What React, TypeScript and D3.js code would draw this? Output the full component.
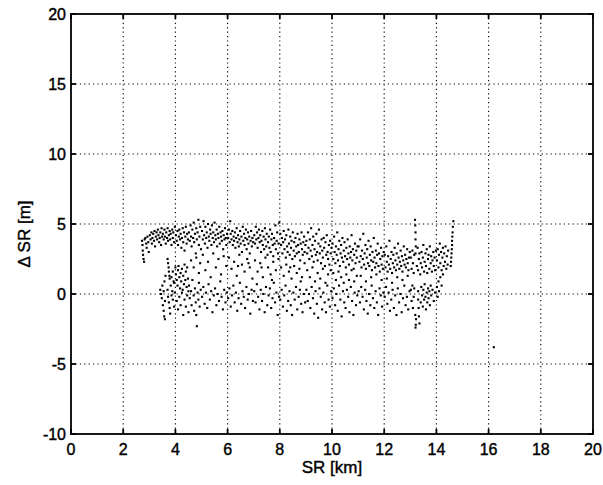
import React from "react";
import * as d3 from "d3";

// x ticks / y ticks as printed on the axes
const xTicks = [0, 2, 4, 6, 8, 10, 12, 14, 16, 18, 20];
const yTicks = [-10, -5, 0, 5, 10, 15, 20];

// [SR km, delta SR m], grouped by km
const pts0 = [
  [2.72,3.8],[2.74,3.5],[2.75,3.1],[2.76,2.8],[2.78,2.5],[2.8,2.3],[2.82,3.9],[2.85,4.0],[2.88,3.6],[2.9,3.3],[2.93,4.1],[2.96,3.7],[2.98,3.0],
  [3.02,4.2],[3.05,3.9],[3.08,4.4],[3.1,3.6],[3.12,4.0],[3.15,4.3],[3.18,3.8],[3.2,4.5],[3.22,3.4],[3.25,4.1],[3.28,4.4],[3.3,3.9],[3.33,4.6],[3.35,4.2],[3.38,3.7],[3.4,4.0],[3.42,4.4],[3.45,3.5],[3.47,4.7],[3.49,4.1],
  [3.42,0.3],[3.45,0.0],[3.48,-0.3],[3.5,0.6],[3.52,-0.8],[3.55,-1.2],[3.57,-1.6],[3.58,0.9],[3.6,-1.8],[3.62,1.3],[3.6,-0.5],[3.55,0.2],
  [3.52,4.3],[3.55,3.9],[3.58,4.6],[3.6,4.1],[3.63,3.6],[3.65,4.4],[3.68,4.0],[3.7,4.7],[3.72,3.8],[3.75,4.2],[3.78,4.5],[3.8,3.9],[3.82,4.3],[3.85,3.5],[3.88,4.6],[3.9,4.0],[3.92,4.4],[3.95,3.7],[3.98,4.8],
  [3.7,2.5],[3.72,2.2],[3.74,1.9],[3.75,1.6],[3.77,1.3],[3.78,1.1],
  [3.7,0.3],[3.72,-0.2],[3.75,-0.6],[3.78,-1.0],[3.8,-1.4],[3.82,0.6],[3.85,-0.1],[3.88,0.2],[3.9,-0.4],[3.93,0.9],[3.95,-0.9],[3.98,0.1],
  [3.85,1.2],[3.9,1.6],[3.95,0.8],[4.0,1.9],[4.02,1.4],[4.05,1.0],[4.08,0.6],[4.1,1.7],[4.12,2.0],[4.15,1.2],[4.18,0.4],[4.2,1.5],[4.22,0.9],[4.25,1.8],[4.28,0.3],[4.3,1.3],[4.33,0.7],[4.35,2.1],[4.38,1.0],[4.4,1.6],[4.43,0.5],[4.45,1.9],[4.48,1.1],[4.5,0.2],
  [4.02,4.2],[4.05,3.8],[4.08,4.5],[4.1,3.5],[4.13,4.1],[4.15,4.6],[4.18,3.9],[4.2,4.3],[4.23,3.3],[4.25,4.0],[4.28,4.7],[4.3,3.7],[4.33,4.4],[4.35,3.1],[4.38,4.1],[4.4,4.8],[4.43,3.6],[4.45,4.3],[4.48,3.9],
  [4.05,-0.5],[4.1,-1.1],[4.15,-0.2],[4.2,-0.8],[4.25,0.1],[4.3,-1.5],[4.35,-0.4],[4.4,-0.9],[4.45,-0.1],[4.5,-1.3],
  [4.52,4.4],[4.55,3.8],[4.58,4.9],[4.6,4.1],[4.62,3.4],[4.65,4.6],[4.68,4.0],[4.7,5.1],[4.72,3.7],[4.75,4.3],[4.78,2.9],[4.8,4.7],[4.82,3.9],[4.85,4.4],[4.88,5.3],[4.9,3.5],[4.92,4.1],[4.95,4.8],[4.98,3.2],
  [4.6,2.4],[4.7,1.9],[4.8,2.6],[4.9,1.5],[4.95,2.2],
  [4.52,0.6],[4.55,-0.3],[4.6,0.2],[4.62,-0.8],[4.65,1.0],[4.7,-0.1],[4.72,-1.2],[4.75,0.4],[4.78,-0.6],[4.8,-1.5],[4.82,-2.3],[4.85,0.1],[4.88,-0.4],[4.9,0.8],[4.93,-0.9],[4.97,0.3],
];

const pts5 = [
  [5.02,4.5],[5.05,3.9],[5.08,5.2],[5.1,4.2],[5.13,3.6],[5.15,4.8],[5.18,4.0],[5.2,4.4],[5.23,3.3],[5.25,5.0],[5.28,4.1],[5.3,3.8],[5.33,4.6],[5.35,4.3],[5.38,3.5],[5.4,4.9],[5.43,4.0],[5.45,4.4],[5.48,3.7],[5.5,5.1],[5.53,4.2],[5.55,3.9],[5.58,4.6],[5.6,3.4],[5.63,4.3],[5.65,4.0],[5.68,4.8],[5.7,3.6],[5.73,4.4],[5.75,4.1],[5.78,3.8],[5.8,4.5],[5.83,3.2],[5.85,4.2],[5.88,3.9],[5.9,4.7],[5.93,4.0],[5.95,3.5],[5.98,4.3],
  [5.05,2.8],[5.15,1.7],[5.25,2.3],[5.35,1.2],[5.45,2.9],[5.55,1.9],[5.65,2.5],[5.75,1.4],[5.85,2.7],[5.95,2.0],
  [5.02,-0.2],[5.07,0.5],[5.12,-0.7],[5.17,0.1],[5.22,-1.0],[5.27,0.7],[5.32,-0.4],[5.37,0.2],[5.42,-1.3],[5.47,-0.1],[5.52,0.4],[5.57,-0.8],[5.62,0.0],[5.67,-0.5],[5.72,0.9],[5.77,-0.2],[5.82,-1.1],[5.87,0.3],[5.92,-0.6],[5.97,0.1],
  [6.02,4.0],[6.05,4.6],[6.08,3.7],[6.1,5.2],[6.12,4.3],[6.15,3.9],[6.18,4.5],[6.2,3.5],[6.23,4.1],[6.25,3.8],[6.28,4.4],[6.3,3.3],[6.33,4.0],[6.35,4.7],[6.38,3.7],[6.4,4.2],[6.43,3.4],[6.45,3.9],[6.48,4.5],[6.5,3.6],[6.53,4.1],[6.55,3.0],[6.58,4.8],[6.6,3.8],[6.63,4.3],[6.65,3.5],[6.68,4.0],[6.7,4.6],[6.73,3.2],[6.75,3.9],[6.78,4.4],[6.8,3.6],[6.83,4.1],[6.85,2.9],[6.88,3.8],[6.9,4.5],[6.93,3.4],[6.95,4.0],[6.98,3.7],
  [6.05,2.6],[6.15,1.8],[6.25,2.3],[6.35,1.3],[6.45,2.8],[6.55,2.1],[6.65,1.6],[6.75,2.5],[6.85,1.9],[6.95,1.1],[6.4,2.0],[6.8,2.2],
  [6.02,-0.3],[6.07,0.4],[6.12,-0.9],[6.17,-0.1],[6.22,0.6],[6.27,-0.6],[6.32,0.1],[6.37,-1.2],[6.42,-0.3],[6.47,0.8],[6.52,-0.7],[6.57,0.2],[6.62,-0.2],[6.67,-1.0],[6.72,0.5],[6.77,-0.4],[6.82,0.0],[6.87,-1.4],[6.92,0.3],[6.97,-0.5],
  [7.02,4.2],[7.05,3.6],[7.08,4.8],[7.1,3.9],[7.13,4.4],[7.15,3.3],[7.18,4.0],[7.2,4.6],[7.23,3.7],[7.25,4.2],[7.28,3.0],[7.3,3.8],[7.33,4.5],[7.35,3.5],[7.38,4.1],[7.4,3.2],[7.43,4.7],[7.45,3.9],[7.48,3.4],[7.5,4.3],[7.53,2.8],[7.55,3.7],[7.58,4.1],[7.6,3.3],[7.63,4.6],[7.65,3.0],[7.68,3.9],[7.7,4.3],[7.73,3.5],[7.75,2.7],[7.78,4.0],[7.8,3.6],[7.83,4.9],[7.85,3.2],[7.88,3.8],[7.9,4.4],[7.93,2.9],[7.95,3.6],[7.98,5.1],
  [7.05,2.4],[7.15,1.6],[7.25,2.2],[7.35,1.2],[7.45,2.6],[7.55,1.9],[7.65,1.4],[7.75,2.3],[7.85,1.7],[7.95,2.5],[7.3,1.9],[7.7,1.0],
  [7.02,0.2],[7.07,-0.6],[7.12,0.7],[7.17,-0.2],[7.22,-1.1],[7.27,0.3],[7.32,-0.5],[7.37,0.0],[7.42,-1.3],[7.47,0.5],[7.52,-0.8],[7.57,-0.1],[7.62,0.4],[7.67,-1.0],[7.72,-0.3],[7.77,0.8],[7.82,-0.6],[7.87,0.1],[7.92,-1.5],[7.97,-0.2],
];

const pts8 = [
  [8.02,4.3],[8.05,3.5],[8.08,4.0],[8.1,2.9],[8.13,3.7],[8.15,4.5],[8.18,3.2],[8.2,3.9],[8.23,2.6],[8.25,4.2],[8.28,3.4],[8.3,3.0],[8.33,4.6],[8.35,3.6],[8.38,2.8],[8.4,4.1],[8.43,3.3],[8.45,3.8],[8.48,2.5],[8.5,4.4],[8.53,3.1],[8.55,3.7],[8.58,2.7],[8.6,4.0],[8.63,3.4],[8.65,2.9],[8.68,4.3],[8.7,3.5],[8.73,3.0],[8.75,3.9],[8.78,2.4],[8.8,3.6],[8.83,4.4],[8.85,3.2],[8.88,2.8],[8.9,3.7],[8.93,4.1],[8.95,3.0],[8.98,3.5],
  [8.05,1.9],[8.15,1.3],[8.25,2.1],[8.35,1.6],[8.45,1.1],[8.55,2.0],[8.65,1.5],[8.75,1.8],[8.85,1.2],[8.95,2.2],[8.4,1.9],[8.8,0.9],
  [8.02,-0.4],[8.07,0.3],[8.12,-0.9],[8.17,-0.1],[8.22,0.6],[8.27,-1.2],[8.32,-0.5],[8.37,0.2],[8.42,-0.8],[8.47,-1.5],[8.52,0.1],[8.57,-0.4],[8.62,0.5],[8.67,-1.1],[8.72,-0.2],[8.77,0.3],[8.82,-0.7],[8.87,-1.3],[8.92,0.0],[8.97,-0.6],
  [9.02,3.8],[9.05,2.9],[9.08,4.4],[9.1,3.3],[9.13,2.5],[9.15,3.9],[9.18,3.1],[9.2,4.7],[9.23,2.7],[9.25,3.5],[9.28,4.1],[9.3,2.3],[9.33,3.2],[9.35,3.8],[9.38,2.8],[9.4,4.3],[9.43,3.0],[9.45,2.4],[9.48,3.6],[9.5,4.6],[9.53,2.9],[9.55,3.4],[9.58,2.2],[9.6,3.9],[9.63,3.1],[9.65,2.6],[9.68,4.0],[9.7,3.3],[9.73,2.0],[9.75,3.7],[9.78,2.8],[9.8,4.2],[9.83,3.0],[9.85,2.5],[9.88,3.5],[9.9,2.1],[9.93,3.8],[9.95,2.9],[9.98,3.3],
  [9.05,1.7],[9.15,1.2],[9.25,1.9],[9.35,0.9],[9.45,1.5],[9.55,1.1],[9.65,1.8],[9.75,0.8],[9.85,1.4],[9.95,1.7],
  [9.02,0.3],[9.07,-0.5],[9.12,0.0],[9.17,-1.0],[9.22,0.5],[9.27,-0.3],[9.32,-1.4],[9.37,0.2],[9.42,-0.7],[9.47,-1.7],[9.52,0.4],[9.57,-0.2],[9.62,-1.1],[9.67,0.1],[9.72,-0.6],[9.77,-1.3],[9.82,0.6],[9.87,-0.4],[9.92,-0.9],[9.97,0.2],
  [10.02,3.6],[10.05,2.5],[10.08,4.1],[10.1,3.0],[10.13,2.2],[10.15,3.4],[10.18,2.8],[10.2,4.4],[10.23,2.4],[10.25,3.2],[10.28,3.8],[10.3,2.0],[10.33,2.9],[10.35,3.5],[10.38,2.6],[10.4,4.0],[10.43,2.3],[10.45,3.1],[10.48,3.7],[10.5,2.7],[10.53,1.9],[10.55,3.3],[10.58,2.5],[10.6,3.9],[10.63,2.9],[10.65,2.1],[10.68,3.4],[10.7,2.6],[10.73,3.0],[10.75,4.2],[10.78,2.4],[10.8,3.2],[10.83,1.8],[10.85,2.8],[10.88,3.6],[10.9,2.2],[10.93,3.1],[10.95,2.6],[10.98,3.4],
  [10.05,1.5],[10.15,1.0],[10.25,1.6],[10.35,1.2],[10.45,0.8],[10.55,1.4],[10.65,1.0],[10.75,1.7],[10.85,0.9],[10.95,1.3],
  [10.02,-0.3],[10.07,0.4],[10.12,-0.8],[10.17,0.0],[10.22,-1.2],[10.27,0.6],[10.32,-0.4],[10.37,-1.6],[10.42,0.2],[10.47,-0.6],[10.52,-1.0],[10.57,0.3],[10.62,-0.2],[10.67,-1.3],[10.72,0.5],[10.77,-0.5],[10.82,-1.5],[10.87,0.1],[10.92,-0.8],[10.97,-0.1],
];

const pts11 = [
  [11.02,3.4],[11.05,2.3],[11.08,3.9],[11.1,2.7],[11.13,1.9],[11.15,3.1],[11.18,2.5],[11.2,4.3],[11.23,2.1],[11.25,2.9],[11.28,3.5],[11.3,1.8],[11.33,2.6],[11.35,3.2],[11.38,2.2],[11.4,3.8],[11.43,2.0],[11.45,2.8],[11.48,3.4],[11.5,2.4],[11.53,1.7],[11.55,3.0],[11.58,2.3],[11.6,4.0],[11.63,2.6],[11.65,1.9],[11.68,3.1],[11.7,2.2],[11.73,2.8],[11.75,3.6],[11.78,2.0],[11.8,2.9],[11.83,1.6],[11.85,2.5],[11.88,3.3],[11.9,2.1],[11.93,2.7],[11.95,1.8],[11.98,3.0],
  [11.1,1.3],[11.3,0.9],[11.5,1.2],[11.7,1.4],[11.9,1.0],
  [11.02,0.2],[11.07,-0.6],[11.12,0.5],[11.17,-0.2],[11.22,-1.1],[11.27,0.3],[11.32,-0.5],[11.37,-1.4],[11.42,0.0],[11.47,-0.8],[11.52,0.6],[11.57,-0.3],[11.62,-1.0],[11.67,0.2],[11.72,-0.6],[11.77,-1.5],[11.82,0.4],[11.87,-0.1],[11.92,-0.9],[11.97,0.1],
  [12.02,2.8],[12.05,1.9],[12.08,3.4],[12.1,2.3],[12.13,1.6],[12.15,2.7],[12.18,2.1],[12.2,3.8],[12.23,1.8],[12.25,2.5],[12.28,3.0],[12.3,1.5],[12.33,2.2],[12.35,2.8],[12.38,1.9],[12.4,3.3],[12.43,2.4],[12.45,1.7],[12.48,2.9],[12.5,2.1],[12.53,3.6],[12.55,2.6],[12.58,1.8],[12.6,2.3],[12.63,3.1],[12.65,2.0],[12.68,2.7],[12.7,1.6],[12.73,2.4],[12.75,3.4],[12.78,2.1],[12.8,2.8],[12.83,1.9],[12.85,2.5],[12.88,3.2],[12.9,2.2],[12.93,1.7],[12.95,2.6],[12.98,3.0],
  [12.1,1.1],[12.3,0.8],[12.5,1.2],[12.7,1.0],[12.9,1.3],
  [12.02,-0.2],[12.07,0.5],[12.12,-0.7],[12.17,0.1],[12.22,-1.2],[12.27,-0.4],[12.32,0.3],[12.37,-1.0],[12.42,-0.1],[12.47,-1.5],[12.52,0.4],[12.57,-0.6],[12.62,0.0],[12.67,-1.3],[12.72,-0.3],[12.77,0.6],[12.82,-0.8],[12.87,-0.2],[12.92,-1.1],[12.97,0.2],
  [13.18,5.3],[13.19,4.9],[13.2,4.4],[13.2,3.9],[13.21,3.4],[13.2,2.9],[13.22,-1.8],[13.21,-2.2],[13.2,-2.4],[13.19,-1.5],
  [13.02,2.6],[13.05,1.8],[13.08,3.1],[13.1,2.2],[13.13,1.5],[13.15,2.8],[13.25,2.0],[13.28,3.3],[13.3,1.7],[13.33,2.5],[13.35,2.9],[13.38,1.4],[13.4,2.2],[13.43,3.0],[13.45,1.9],[13.48,2.6],[13.5,3.5],[13.53,1.6],[13.55,2.3],[13.58,2.9],[13.6,2.0],[13.63,3.2],[13.65,1.5],[13.68,2.5],[13.7,2.8],[13.73,1.8],[13.75,3.4],[13.78,2.2],[13.8,2.7],[13.83,1.6],[13.85,2.4],[13.88,3.0],[13.9,2.0],[13.93,2.6],[13.95,1.7],[13.98,3.1],
  [13.02,0.3],[13.05,-0.5],[13.08,0.6],[13.1,-1.0],[13.13,-0.2],[13.15,0.4],[13.3,-0.4],[13.32,-1.0],[13.33,-1.6],[13.35,-2.1],[13.3,0.2],[13.4,-0.6],[13.42,0.5],[13.45,-0.1],[13.48,-0.9],[13.5,0.3],[13.53,-0.4],[13.55,0.7],[13.58,-0.2],[13.6,-1.1],[13.63,0.1],[13.65,-0.6],[13.68,0.4],[13.7,-0.3],[13.73,0.2],[13.75,-0.8],[13.78,0.6],[13.8,-0.1],[13.85,0.3],[13.9,-0.5],[13.95,0.1],
  [14.02,2.4],[14.05,3.2],[14.08,1.9],[14.1,2.8],[14.13,3.6],[14.15,2.2],[14.18,3.0],[14.2,1.7],[14.23,2.6],[14.25,3.3],[14.28,2.0],[14.3,2.9],[14.33,2.3],[14.35,3.4],[14.38,1.8],[14.4,2.7],[14.43,2.1],[14.45,3.1],
  [14.02,0.5],[14.05,-0.2],[14.08,0.9],[14.1,0.2],[14.15,1.2],[14.2,0.6],[14.25,1.4],
  [14.55,2.0],[14.56,2.3],[14.57,2.6],[14.58,2.9],[14.59,3.2],[14.6,3.5],[14.6,3.8],[14.61,4.1],[14.62,4.4],[14.63,4.8],[14.65,5.2],
  [16.2,-3.8],
];

const points = [...pts0, ...pts5, ...pts8, ...pts11];

const W = 603;
const H = 485;
const left = 71, right = 593, top = 14, bottom = 434;

export default function App() {
  const x = d3.scaleLinear().domain([0, 20]).range([left, right]);
  const y = d3.scaleLinear().domain([-10, 20]).range([bottom, top]);
  const font = "Arial, 'Liberation Sans', Helvetica, sans-serif";
  const tick = 5;

  return (
    <svg width={W} height={H} style={{ position: "absolute", left: 0, top: 0, background: "#fff" }}>
      <rect x={0} y={0} width={W} height={H} fill="#fff" />
      {/* dotted grid */}
      <g stroke="#000" strokeWidth={1.1} strokeDasharray="1.2,3.2">
        {xTicks.slice(1, -1).map((t) => (
          <line key={"gx" + t} x1={x(t)} x2={x(t)} y1={top} y2={bottom} />
        ))}
        {yTicks.slice(1, -1).map((t) => (
          <line key={"gy" + t} x1={left} x2={right} y1={y(t)} y2={y(t)} />
        ))}
      </g>
      {/* points */}
      <g fill="#000">
        {points.map((d, i) => (
          <rect key={i} x={x(d[0]) - 1.05} y={y(d[1]) - 1.05} width={2.1} height={2.1} />
        ))}
      </g>
      {/* frame and inward ticks */}
      <g stroke="#000" strokeWidth={1.8} fill="none">
        <rect x={left} y={top} width={right - left} height={bottom - top} />
        {xTicks.map((t) => (
          <g key={"tx" + t}>
            <line x1={x(t)} x2={x(t)} y1={bottom} y2={bottom - tick} />
            <line x1={x(t)} x2={x(t)} y1={top} y2={top + tick} />
          </g>
        ))}
        {yTicks.map((t) => (
          <g key={"ty" + t}>
            <line x1={left} x2={left + tick} y1={y(t)} y2={y(t)} />
            <line x1={right} x2={right - tick} y1={y(t)} y2={y(t)} />
          </g>
        ))}
      </g>
      {/* tick labels */}
      <g fontFamily={font} fontSize={16} fill="#000" stroke="#000" strokeWidth={0.4}>
        {xTicks.map((t) => (
          <text key={"lx" + t} x={x(t)} y={bottom + 21} textAnchor="middle">{t}</text>
        ))}
        {yTicks.map((t) => (
          <text key={"ly" + t} x={left - 5} y={y(t) + 6} textAnchor="end">{t}</text>
        ))}
      </g>
      <g fontFamily={font} fontSize={17} fill="#000" stroke="#000" strokeWidth={0.4}>
        <text x={(left + right) / 2} y={473} textAnchor="middle">SR [km]</text>
        <text transform={`translate(30, ${(top + bottom) / 2 + 10}) rotate(-90)`} textAnchor="middle">Δ SR [m]</text>
      </g>
    </svg>
  );
}
